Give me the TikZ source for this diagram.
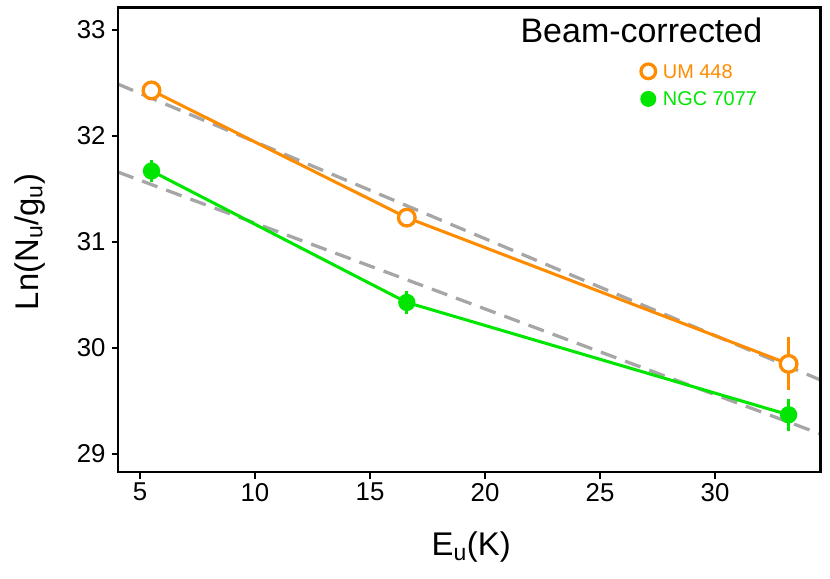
\documentclass[tikz,border=0pt]{standalone}
\usepackage{fontspec}
\setmainfont{Liberation Sans}
\definecolor{umorange}{RGB}{255,140,0}
\definecolor{ngcgreen}{RGB}{0,230,0}
\begin{document}
\begin{tikzpicture}
        \useasboundingbox (0,0) rectangle (24.9,17.34);
        \begin{scope}[x=0.69cm,y=3.18cm,shift={(0.75cm,-88.5cm)}]
        % cornice e tacche
        \foreach \v in {5,10,...,30}{
            \draw[line width=2.2pt] (\v,28.83) -- (\v,28.76);
            \node[below=6pt,font=\fontsize{22}{22}\selectfont] at (\v,28.83) {\v};
        }
        \foreach \w in {29,...,33}{
            \draw[line width=2.2pt] (4.04,\w) -- (3.79,\w);
            \node[left=7pt,font=\fontsize{22}{22}\selectfont] at (4.04,\w) {\w};
        }
        \node[font=\fontsize{28}{28}\selectfont] at (19.4,28.12) {E$_{\mathrm{u}}$(K)};
        \node[rotate=90,font=\fontsize{28}{28}\selectfont] at (0.2,31.0) {Ln(N$_{\mathrm{u}}$/g$_{\mathrm{u}}$)};
        % rette tratteggiate
        \draw[gray!70,line width=2.8pt,dash pattern=on 14pt off 8pt] (4.04,32.49) -- (34.57,29.70);
        \draw[gray!70,line width=2.8pt,dash pattern=on 14pt off 8pt] (4.04,31.66) -- (34.57,29.19);
        % NGC 7077
        \draw[ngcgreen,line width=2.6pt] (5.5,31.67) -- (16.6,30.43) -- (33.2,29.37);
        \draw[ngcgreen,line width=2.6pt] (5.5,31.57) -- (5.5,31.77);
        \draw[ngcgreen,line width=2.6pt] (16.6,30.32) -- (16.6,30.54);
        \draw[ngcgreen,line width=2.6pt] (33.2,29.22) -- (33.2,29.52);
        \foreach \p in {(5.5,31.67),(16.6,30.43),(33.2,29.37)}
            \fill[ngcgreen] \p circle (0.26cm);
        % UM 448
        \draw[umorange,line width=2.6pt] (5.5,32.43) -- (16.6,31.23) -- (33.2,29.85);
        \draw[umorange,line width=2.6pt] (33.2,29.60) -- (33.2,30.10);
        \foreach \p in {(5.5,32.43),(16.6,31.23),(33.2,29.85)}
            \draw[umorange,line width=2.8pt,fill=white] \p circle (0.25cm);
        % legenda
        \node[font=\fontsize{29}{29}\selectfont] at (26.8,33.0) {Beam-corrected};
        \draw[umorange,line width=2.8pt] (27.1,32.61) circle (0.22cm);
        \node[right=5pt,umorange,font=\fontsize{17}{17}\selectfont] at (27.3,32.61) {UM 448};
        \fill[ngcgreen] (27.1,32.35) circle (0.24cm);
        \node[right=5pt,ngcgreen,font=\fontsize{17}{17}\selectfont] at (27.3,32.35) {NGC 7077};
        \draw[line width=2.4pt] (4.04,28.83) rectangle (34.57,33.21); % bordi
        \end{scope}
    \end{tikzpicture}
\end{document}
